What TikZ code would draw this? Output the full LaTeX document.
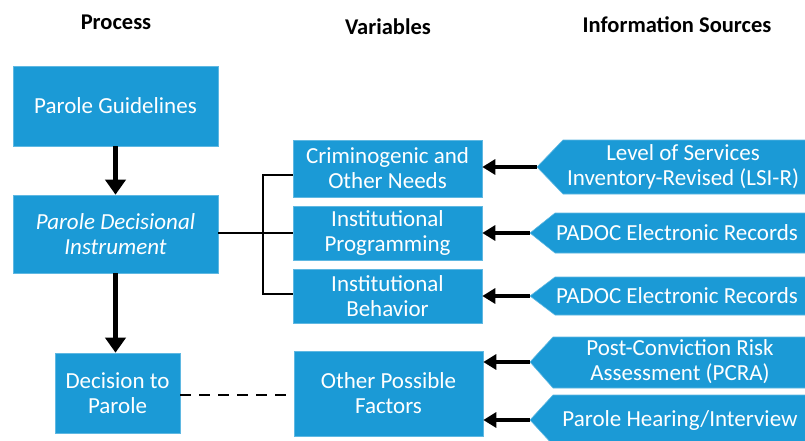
\documentclass[tikz,border=0pt]{standalone}
\usepackage{fontspec}
\setmainfont{Carlito}
\usetikzlibrary{arrows.meta}
\definecolor{boxblue}{RGB}{27,154,214}
\begin{document}
\begin{tikzpicture}[x=1pt,y=-1pt,
  bx/.style={fill=boxblue,draw=boxblue!70!white,line width=0.6pt,text=white,align=center,
    font=\fontsize{23}{25}\selectfont,inner sep=0pt},
  hdr/.style={font=\fontsize{22.5}{24}\selectfont\bfseries,text=black},
  srctext/.style={text=white,align=center,font=\fontsize{23}{25}\selectfont,inner sep=0pt},
  src/.style={fill=boxblue,draw=boxblue!70!white,line width=0.6pt},
  bigarrow/.style={line width=5pt,-{Triangle[length=15pt,width=20pt]}},
  sidearrow/.style={line width=3.8pt,-{Triangle[length=13pt,width=15pt]}},
  brk/.style={line width=1.8pt}
]
\useasboundingbox (0,0) rectangle (805,441);
\clip (0,0) rectangle (805,441);
\fill[white] (0,0) rectangle (805,441);

% headers
\node[hdr] (hproc) at (116,22) {Process};
\node[hdr] (hvar) at (388,27) {Variables};
\node[hdr] (hinfo) at (677,25) {Information Sources};

% process boxes
\node[bx,minimum width=205pt,minimum height=80pt] (pg) at (115.5,106) {Parole Guidelines};
\node[bx,minimum width=205pt,minimum height=78pt,font=\fontsize{23}{25}\selectfont\itshape] (pdi) at (115.5,234) {Parole Decisional\\Instrument};
\node[bx,minimum width=125pt,minimum height=80pt] (dec) at (117.5,393) {Decision to\\Parole};

% variable boxes
\node[bx,minimum width=189pt,minimum height=57pt] (crim) at (387.5,168.5) {Criminogenic and\\Other Needs};
\node[bx,minimum width=189pt,minimum height=54pt] (prog) at (387.5,233) {Institutional\\Programming};
\node[bx,minimum width=189pt,minimum height=54pt] (beh) at (387.5,296) {Institutional\\Behavior};
\node[bx,minimum width=189pt,minimum height=85pt] (oth) at (388.5,393.5) {Other Possible\\Factors};

% information source shapes
\draw[src] (537,167) -- (563,140) -- (830,140) -- (830,194) -- (563,194) -- cycle;
\coordinate (t1) at (537,167);
\draw[src] (530,233) -- (555,213) -- (830,213) -- (830,253) -- (555,253) -- cycle;
\coordinate (t2) at (530,233);
\draw[src] (530,296) -- (555,277) -- (830,277) -- (830,315) -- (555,315) -- cycle;
\coordinate (t3) at (530,296);
\draw[src] (530,362) -- (553,337) -- (830,337) -- (830,388) -- (553,388) -- cycle;
\coordinate (t4) at (530,362);
\draw[src] (530,420) -- (553,395) -- (830,395) -- (830,445) -- (553,445) -- cycle;
\coordinate (t5) at (530,420);

\node[srctext] (s1) at (683,167) {Level of Services\\Inventory-Revised (LSI-R)};
\node[srctext] (s2) at (677,233) {PADOC Electronic Records};
\node[srctext] (s3) at (677,296) {PADOC Electronic Records};
\node[srctext] (s4) at (680,362) {Post-Conviction Risk\\Assessment (PCRA)};
\node[srctext] (s5) at (680,420) {Parole Hearing/Interview};

% process arrows
\draw[bigarrow] (pg.south) -- (pdi.north);
\draw[bigarrow] (pdi.south) -- (pdi.south |- dec.north);

% bracket
\coordinate (bt) at (263,175);
\coordinate (bb) at (263,294);
\draw[brk] (pdi.east |- prog.west) -- (prog.west);
\draw[brk] (crim.west |- bt) -- (bt) -- (bb) -- (beh.west |- bb);

% dashed
\draw[line width=2.5pt,dash pattern=on 11pt off 8pt] (dec.east |- 0,395) -- (oth.west |- 0,395);

% source arrows
\draw[sidearrow] (t1) -- (t1 -| crim.east);
\draw[sidearrow] (t2) -- (t2 -| prog.east);
\draw[sidearrow] (t3) -- (t3 -| beh.east);
\draw[sidearrow] (t4) -- (t4 -| oth.east);
\draw[sidearrow] (t5) -- (t5 -| oth.east);
\end{tikzpicture}
\end{document}
